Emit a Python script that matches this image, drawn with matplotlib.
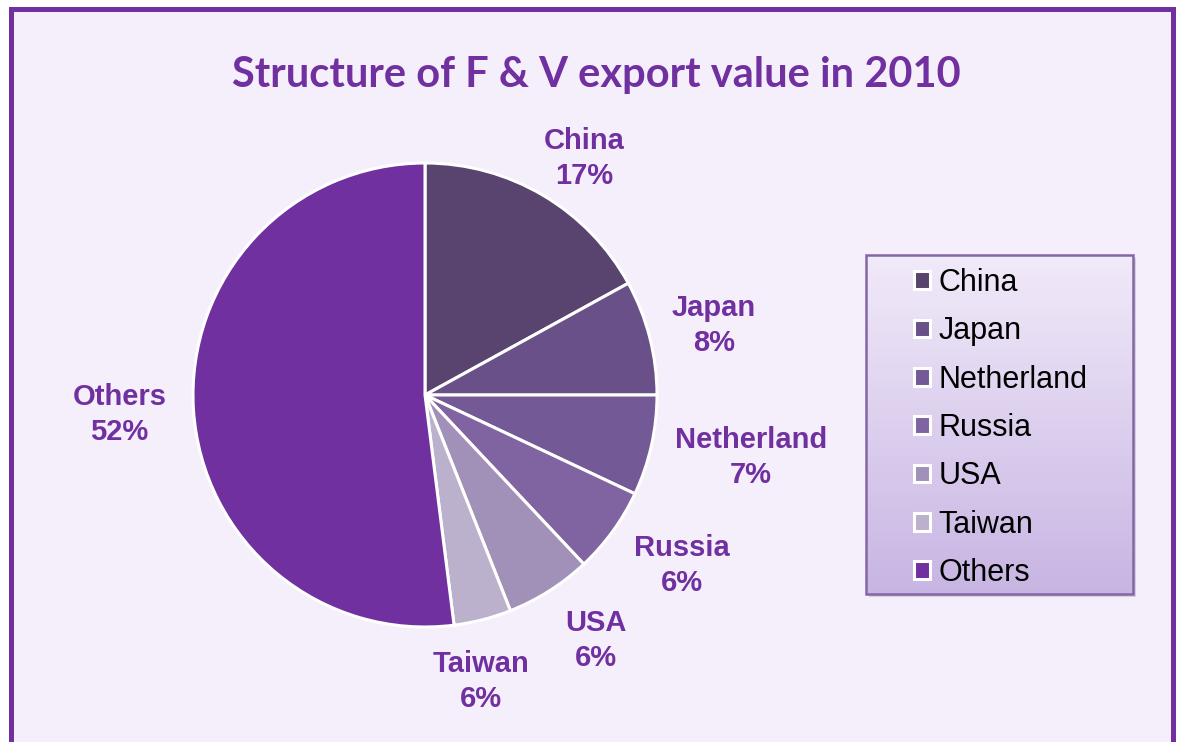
import numpy as np
import matplotlib.pyplot as plt
from matplotlib.patches import Rectangle
from matplotlib.colors import LinearSegmentedColormap

# data
countries = ['China', 'Japan', 'Netherland', 'Russia', 'USA', 'Taiwan', 'Others']
shares = [17, 8, 7, 6, 6, 4, 52]
share_labels = ['17%', '8%', '7%', '6%', '6%', '6%', '52%']
colors = ['#58446F', '#6A5088', '#735A96', '#8064A2', '#A191B8', '#BBB1CC', '#7030A0']

W, H = 1178, 742
purple = '#7030A0'

fig = plt.figure(figsize=(W / 100, H / 100), dpi=100, facecolor='white')
ax = fig.add_axes([0, 0, 1, 1])

# chart frame
ax.add_patch(Rectangle((10.5, -20), 1162, H - 8.5 + 20, facecolor='#F5EEFB',
                       edgecolor=purple, lw=3.6, zorder=0))

cx, cy, r = 425, H - 395, 232
wedges, _ = ax.pie(shares, colors=colors, startangle=90, counterclock=False,
                   center=(cx, cy), radius=r,
                   wedgeprops=dict(edgecolor='white', linewidth=2.2))

# data labels outside the slices (radial distance, angle nudge in degrees)
dist = [1.23, 1.28, 1.43, 1.33, 1.29, 1.26, 1.32]
nudge = [-3.3, -0.8, 1.8, 2.5, 2.5, -3.4, 0]
for w, name, lab, d, dn in zip(wedges, countries, share_labels, dist, nudge):
    ang = np.deg2rad((w.theta1 + w.theta2) / 2 + dn)
    ax.text(cx + d * r * np.cos(ang), cy + d * r * np.sin(ang), f'{name}\n{lab}',
            ha='center', va='center', fontsize=21, fontweight='bold', color=purple,
            family='Liberation Sans', linespacing=1.32)

# legend box with gradient
lx0, lx1, ly0, ly1 = 866, 1133, H - 594, H - 255
ax.add_patch(Rectangle((lx0 + 3, ly0 - 3), lx1 - lx0, ly1 - ly0, facecolor='#999999',
                       alpha=0.35, edgecolor='none', zorder=1))
grad = LinearSegmentedColormap.from_list('g', ['#C8B5E3', '#F1EAF9'])
ax.imshow(np.linspace(0, 1, 100).reshape(-1, 1), cmap=grad, origin='lower',
          extent=(lx0, lx1, ly0, ly1), aspect='auto', zorder=2)
ax.add_patch(Rectangle((lx0, ly0), lx1 - lx0, ly1 - ly0, facecolor='none',
                       edgecolor='#8466A8', lw=1.8, zorder=3))

leg = ax.legend(wedges, countries, loc='upper left', bbox_to_anchor=(914 / W, 1 - 268 / H),
                bbox_transform=fig.transFigure, frameon=False, borderpad=0,
                borderaxespad=0, prop=dict(family='Liberation Sans', size=22),
                handlelength=0.52, handleheight=0.52, handletextpad=0.28,
                labelspacing=0.6)
leg.set_zorder(5)

fig.text(596 / W, 1 - 75 / H, 'Structure of F & V export value in 2010',
         ha='center', va='center', fontsize=30, fontweight='bold', color=purple,
         family='Lato')

ax.set_xlim(0, W)
ax.set_ylim(0, H)
ax.axis('off')

fig.savefig('out.png', dpi=100, facecolor='white')
